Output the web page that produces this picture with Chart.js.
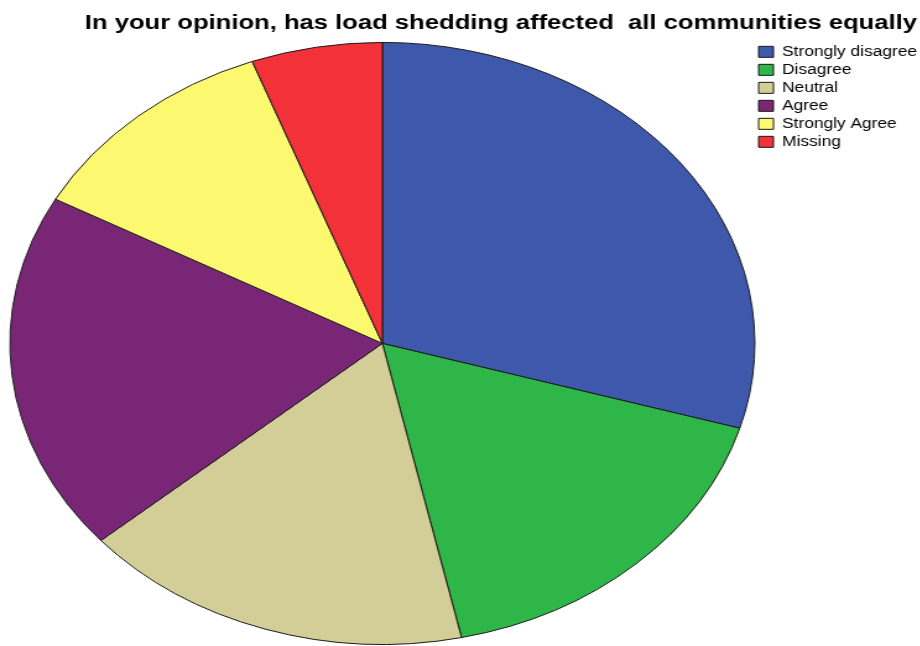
<!DOCTYPE html>
<html>
<head>
<meta charset="utf-8">
<script src="https://cdn.jsdelivr.net/npm/chart.js@4/dist/chart.umd.min.js"></script>
<style>
  html, body { margin: 0; padding: 0; background: #fff; overflow: hidden; }
  /* the original picture is stretched sideways, so the canvas is too */
  #wrap { width: 743px; height: 646px; transform: scaleX(1.2375); transform-origin: 0 0; }
</style>
</head>
<body>
<div id="wrap"><canvas id="pie" width="743" height="646"></canvas></div>
<script>
// Data
const TITLE = 'In your opinion, has load shedding affected  all communities equally';
const categories = ['Strongly disagree', 'Disagree', 'Neutral', 'Agree', 'Strongly Agree', 'Missing'];
const counts = [26, 15, 15, 17, 10, 5];
const colours = ['#3e58ac', '#2fb648', '#d3ce97', '#7a2676', '#fcf870', '#f23238'];

const LEGEND_WIDTH = 132;

// keep the legend narrow so it sits close to the right edge
const legendWidth = {
    id: 'legendWidth',
    beforeLayout(chart) {
        const legend = chart.legend;
        if (!legend || legend._patched) return;
        const fit = legend.fit;
        legend.fit = function () {
            fit.call(this);
            this.width = LEGEND_WIDTH;
        };
        legend._patched = true;
    }
};

const ctx = document.getElementById('pie').getContext('2d');

new Chart(ctx, {
    type: 'pie',
    data: {
        labels: categories,
        datasets: [{
            data: counts,
            backgroundColor: colours,
            borderColor: '#1a1a1a',
            borderWidth: 1,
            radius: 301
        }]
    },
    options: {
        responsive: false,
        animation: false,
        devicePixelRatio: 1,
        layout: { padding: { left: 9, right: 2, top: 0, bottom: 0 } },
        plugins: {
            tooltip: { enabled: false },
            title: {
                display: true,
                text: TITLE,
                align: 'end',
                color: '#000',
                font: { family: 'Liberation Sans, Arial, sans-serif', size: 20.7, weight: 'bold', lineHeight: 1.2 },
                padding: { top: 11, bottom: 5 }
            },
            legend: {
                position: 'right',
                align: 'start',
                fullSize: false,
                labels: {
                    color: '#000',
                    boxWidth: 12,
                    boxHeight: 11,
                    padding: 4,
                    font: { family: 'Liberation Sans, Arial, sans-serif', size: 14, lineHeight: 0.97 }
                }
            }
        }
    },
    plugins: [legendWidth]
});
</script>
</body>
</html>
